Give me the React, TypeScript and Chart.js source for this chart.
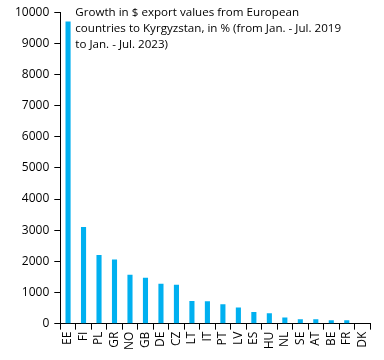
import React, { useEffect, useRef } from "react";
import { Chart, registerables } from "chart.js";

Chart.register(...registerables);

const countries = ["EE", "FI", "PL", "GR", "NO", "GB", "DE", "CZ", "LT", "IT", "PT", "LV", "ES", "HU", "NL", "SE", "AT", "BE", "FR", "DK"];
const growth = [9700, 3100, 2200, 2060, 1570, 1470, 1280, 1250, 730, 720, 620, 520, 370, 330, 200, 140, 140, 110, 105, 0];
const titleLines = [
  "Growth in $ export values from European",
  "countries to Kyrgyzstan, in % (from Jan. - Jul. 2019",
  "to Jan. - Jul. 2023)",
];

const FONT = "'Open Sans', 'Noto Sans', sans-serif";

const titlePlugin = {
  id: "innerTitle",
  afterDraw(chart: any) {
    const { ctx, chartArea } = chart;
    ctx.save();
    ctx.font = `11.6px ${FONT}`;
    ctx.fillStyle = "#000";
    ctx.textBaseline = "top";
    ctx.textAlign = "left";
    titleLines.forEach((l, i) => ctx.fillText(l, chartArea.left + 15, 7 + i * 16));
    ctx.restore();
  },
};

export default function App() {
  const ref = useRef<HTMLCanvasElement>(null);
  useEffect(() => {
    document.body.style.margin = "0";
    const chart = new Chart(ref.current!, {
      type: "bar",
      data: {
        labels: countries,
        datasets: [{ data: growth, backgroundColor: "#00B0F0", barPercentage: 0.33, categoryPercentage: 1 }],
      },
      options: {
        animation: false,
        responsive: false,
        layout: { padding: { top: 10, right: 14, left: 10, bottom: 8 } },
        plugins: { legend: { display: false }, tooltip: { enabled: false } },
        scales: {
          x: {
            grid: { offset: true, drawOnChartArea: false, drawTicks: true, tickLength: 6, color: "#000" },
            border: { color: "#000" },
            ticks: { minRotation: 90, maxRotation: 90, color: "#000", font: { family: FONT, size: 12 }, padding: 2, autoSkip: false },
          },
          y: {
            min: 0,
            max: 10000,
            grid: { drawOnChartArea: false, drawTicks: true, tickLength: 6, color: "#000" },
            border: { color: "#000" },
            ticks: { stepSize: 1000, color: "#000", font: { family: FONT, size: 12 }, padding: 5, callback: (v: any) => String(v) },
          },
        },
      },
      plugins: [titlePlugin],
    });
    return () => chart.destroy();
  }, []);
  return (
    <div style={{ position: "absolute", left: 0, top: 0, width: 384, height: 360, background: "#fff" }}>
      <canvas ref={ref} width={384} height={360} />
    </div>
  );
}
